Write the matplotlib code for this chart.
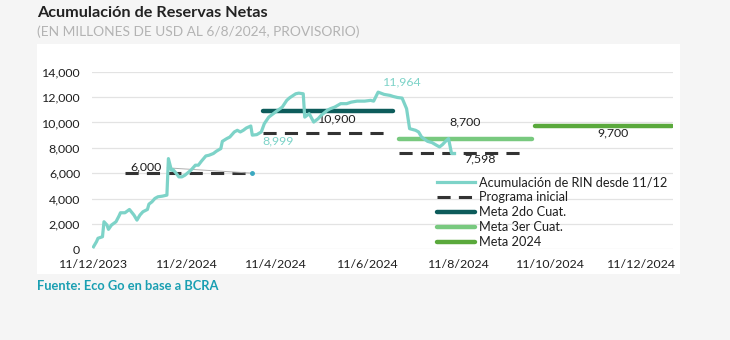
import numpy as np
import matplotlib
matplotlib.use("Agg")
import matplotlib.pyplot as plt
from matplotlib.patches import Rectangle

plt.rcParams['font.family'] = ['Lato', 'DejaVu Sans']

# acumulacion de RIN desde 11/12 (millones de USD)
rin_dates = ['2023-12-11', '2023-12-13', '2023-12-14', '2023-12-17', '2023-12-18', '2023-12-20',
             '2023-12-21', '2023-12-23', '2023-12-26', '2023-12-28', '2023-12-29', '2024-01-01',
             '2024-01-04', '2024-01-07', '2024-01-09', '2024-01-11', '2024-01-13', '2024-01-16',
             '2024-01-17', '2024-01-19', '2024-01-21', '2024-01-23', '2024-01-26', '2024-01-29',
             '2024-01-30', '2024-02-01', '2024-02-02', '2024-02-04', '2024-02-06', '2024-02-08',
             '2024-02-10', '2024-02-14', '2024-02-17', '2024-02-19', '2024-02-21', '2024-02-24',
             '2024-02-26', '2024-02-29', '2024-03-02', '2024-03-05', '2024-03-06', '2024-03-09',
             '2024-03-11', '2024-03-14', '2024-03-16', '2024-03-18', '2024-03-20', '2024-03-22',
             '2024-03-25', '2024-03-26', '2024-03-29', '2024-04-01', '2024-04-03', '2024-04-06',
             '2024-04-09', '2024-04-11', '2024-04-15', '2024-04-18', '2024-04-20', '2024-04-24',
             '2024-04-26', '2024-04-29', '2024-04-30', '2024-05-03', '2024-05-06', '2024-05-09',
             '2024-05-11', '2024-05-15', '2024-05-17', '2024-05-20', '2024-05-24', '2024-05-28',
             '2024-05-31', '2024-06-04', '2024-06-09', '2024-06-13', '2024-06-15', '2024-06-18',
             '2024-06-22', '2024-06-26', '2024-06-28', '2024-07-01', '2024-07-04', '2024-07-07',
             '2024-07-09', '2024-07-13', '2024-07-15', '2024-07-17', '2024-07-21', '2024-07-24',
             '2024-07-27', '2024-07-29', '2024-07-31', '2024-08-02', '2024-08-04', '2024-08-06',
             '2024-08-08']
rin_values = [200, 600, 870, 990, 2170, 1910,
              1570, 1910, 2170, 2620, 2880, 2880,
              3140, 2700, 2300, 2700, 2960, 3140,
              3560, 3740, 4010, 4140, 4190, 4270,
              7150, 6230, 6290, 6020, 5710, 5710,
              5840, 6230, 6630, 6630, 6940, 7360,
              7410, 7550, 7730, 7940, 8510, 8730,
              8850, 9250, 9380, 9250, 9380, 9560,
              9720, 8999, 9040, 9250, 9900, 10420,
              10690, 10870, 11210, 11740, 11950, 12260,
              12310, 12260, 10420, 10690, 10030, 10300,
              10560, 10950, 11080, 11210, 11480, 11480,
              11600, 11680, 11680, 11740, 11680, 12390,
              12210, 12130, 12050, 11964, 11920, 11080,
              9510, 9380, 9250, 8850, 8510, 8410,
              8200, 8070, 8260, 8510, 8730, 7550,
              7550]

# programa inicial (tramos)
prog_start = ['2024-01-01', '2024-04-02', '2024-07-02']
prog_end = ['2024-03-26', '2024-06-24', '2024-09-24']
prog_values = [6000, 9200, 7598]

# metas
meta_names = ['Meta 2do Cuat.', 'Meta 3er Cuat.', 'Meta 2024']
meta_start = ['2024-04-02', '2024-07-02', '2024-10-01']
meta_end = ['2024-06-28', '2024-09-29', '2024-12-31']
meta_values = [10900, 8700, 9700]
meta_colors = ['#0d5c5b', '#78c97f', '#5aa93c']

tick_dates = ['2023-12-11', '2024-02-11', '2024-04-11', '2024-06-11',
              '2024-08-11', '2024-10-11', '2024-12-11']
tick_labels = ['11/12/2023', '11/2/2024', '11/4/2024', '11/6/2024',
               '11/8/2024', '11/10/2024', '11/12/2024']

teal = '#7dd3c8'
dark = '#1f1f1f'
fs = 8.9


def d(s):
    return np.datetime64(s)


fig = plt.figure(figsize=(7.3, 3.4), dpi=100)
fig.patch.set_facecolor('#f5f5f5')
# panel blanco detras del grafico
fig.add_artist(Rectangle((37 / 730, 1 - 274 / 340), 643 / 730, 230 / 340,
                         transform=fig.transFigure, facecolor='white',
                         edgecolor='none', zorder=-5))

ax = fig.add_axes([92 / 730, 1 - 249.3 / 340, 581 / 730, 177.6 / 340])
ax.set_facecolor('none')
ax.set_zorder(2)

x_rin = np.array([d(s) for s in rin_dates])
ax.plot(x_rin, rin_values, color=teal, lw=2.3, solid_joinstyle='round', zorder=4,
        label='Acumulación de RIN desde 11/12')

for i, (s, e, v) in enumerate(zip(prog_start, prog_end, prog_values)):
    ax.plot([d(s), d(e)], [v, v], color='#333333', lw=2.2, linestyle=(0, (4.3, 2.7)),
            dash_capstyle='butt', zorder=3, label='Programa inicial' if i == 0 else None)

for name, s, e, v, c in zip(meta_names, meta_start, meta_end, meta_values, meta_colors):
    ax.plot([d(s), d(e)], [v, v], color=c, lw=3.2, solid_capstyle='round', zorder=3, label=name)

# etiquetas de valores
lab = dict(textcoords='offset points', ha='center', va='center', fontsize=fs)
i_max = rin_values.index(11964)
ax.annotate(f'{rin_values[i_max]:,}', xy=(x_rin[i_max], rin_values[i_max]),
            xytext=(3.6, 11.5), color=teal, **lab)
i_dip = rin_values.index(8999)
ax.annotate(f'{rin_values[i_dip]:,}', xy=(x_rin[i_dip], rin_values[i_dip]),
            xytext=(18.5, -4.3), color=teal, **lab)

meta_offsets = [(7, -5.5), (0, 12), (7.5, -5)]
for s, e, v, off in zip(meta_start, meta_end, meta_values, meta_offsets):
    mid = d(s) + (d(e) - d(s)) / 2
    ax.annotate(f'{v:,}', xy=(mid, v), xytext=off, color=dark, **lab)

mid3 = d(prog_start[2]) + (d(prog_end[2]) - d(prog_start[2])) / 2
ax.annotate(f'{prog_values[2]:,}', xy=(mid3, prog_values[2]), xytext=(13, -4),
            color=dark, **lab)

# 6,000 con linea guia
ax.annotate(f'{prog_values[0]:,}', xy=(d(prog_end[0]), prog_values[0]),
            xytext=(-76.5, 4.8), textcoords='offset points', ha='center', va='center',
            fontsize=fs, color=dark,
            arrowprops=dict(arrowstyle='-', color='#b0b0b0', lw=0.7, shrinkA=2, shrinkB=0))
ax.plot([d(prog_end[0])], [prog_values[0]], 'o', ms=2.5, color='#3aa8c0', zorder=5)

ax.set_ylim(0, 14000)
ax.set_xlim(d('2023-12-10'), d('2024-12-31') + np.timedelta64(20, 'h'))
ax.set_yticks(np.arange(0, 14001, 2000))
ax.set_yticklabels([f'{v:,}' for v in range(0, 14001, 2000)])
ax.set_xticks([d(s) for s in tick_dates])
ax.set_xticklabels(tick_labels)
ax.grid(axis='y', color='#e3e3e3', lw=0.9)
ax.set_axisbelow(True)
for sp in ax.spines.values():
    sp.set_visible(False)
ax.tick_params(axis='both', length=0, labelsize=fs, colors=dark)
ax.tick_params(axis='y', pad=8.5)
ax.tick_params(axis='x', pad=7.3)

leg = ax.legend(loc='upper left', bbox_to_anchor=(437 / 730, 1 - 176 / 340),
                bbox_transform=fig.transFigure, frameon=False, fontsize=9.2,
                handlelength=3.0, handletextpad=0.3, labelspacing=0.24,
                borderpad=0, borderaxespad=0)
for t in leg.get_texts():
    t.set_color(dark)

fig.text(37 / 730, 1 - 13 / 340, 'Acumulación de Reservas Netas', fontsize=11.7,
         fontweight='bold', color='#222222', va='center', ha='left')
fig.text(37 / 730, 1 - 32 / 340, '(EN MILLONES DE USD AL 6/8/2024, PROVISORIO)',
         fontsize=9.9, color='#b3b3b3', va='center', ha='left')
fig.text(37 / 730, 1 - 286 / 340, 'Fuente: Eco Go en base a BCRA', fontsize=9.3,
         fontweight='bold', color='#1a9fb2', va='center', ha='left')

fig.savefig('out.png', dpi=100, facecolor=fig.get_facecolor())
